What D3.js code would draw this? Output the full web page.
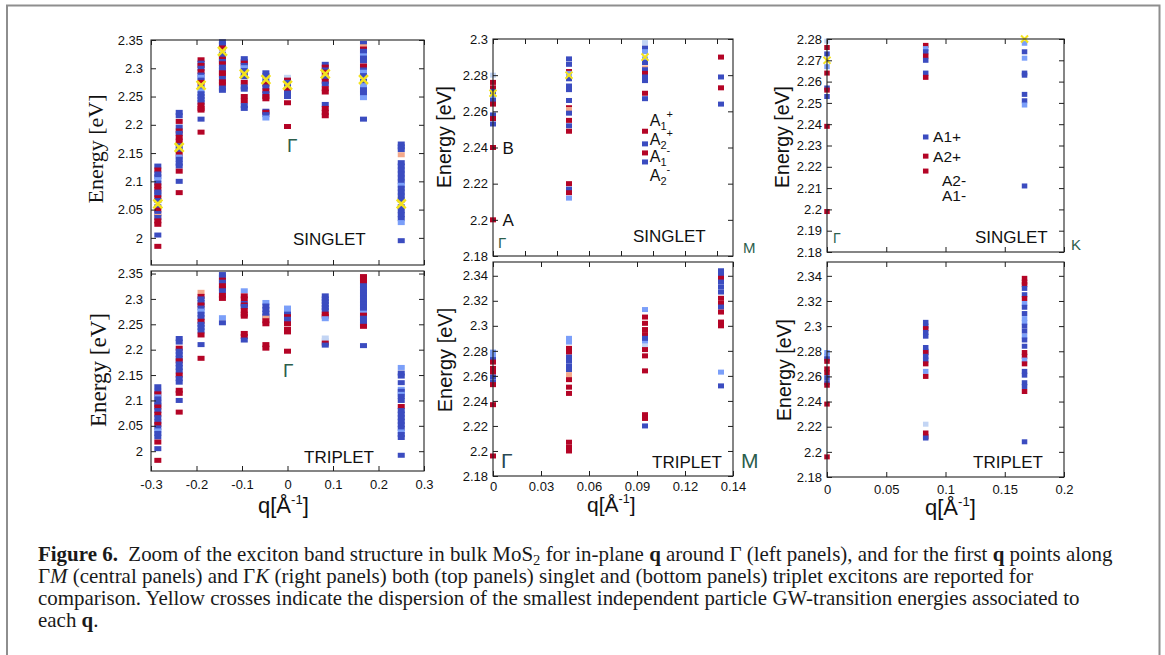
<!DOCTYPE html>
<html>
<head>
<meta charset="utf-8">
<script src="https://cdn.jsdelivr.net/npm/d3@7"></script>
<style>
  body { margin: 0; background: #fff; }
  svg { display: block; }
  .tick text { font-family: "Liberation Sans", Arial, sans-serif; font-size: 13px; }
</style>
</head>
<body>
<div id="chart"></div>
<script>
//// DATA
// q points of each panel [1/Angstrom]
const qAround = [-0.285, -0.238, -0.19, -0.143, -0.095, -0.0475, 0, 0.083, 0.167, 0.25];
const qGM = [0, 0.0475, 0.095, 0.1425];
const qGK = [0, 0.0833, 0.1667];

// exciton levels per q point : [energy eV, colour key]
// b blue, r red, l light blue, p pale blue, s salmon
const singletAround = [
  [[2.127,'b'],[2.12,'r'],[2.113,'b'],[2.108,'b'],[2.103,'l'],[2.097,'b'],[2.092,'r'],[2.086,'r'],[2.081,'b'],[2.077,'b'],[2.071,'r'],[2.066,'b'],[2.055,'b'],[2.049,'r'],[2.043,'b'],[2.038,'s'],[2.036,'b'],[2.03,'r'],[2.024,'r'],[2.005,'b'],[1.985,'r']],
  [[2.222,'b'],[2.216,'b'],[2.206,'r'],[2.196,'b'],[2.189,'r'],[2.185,'b'],[2.178,'r'],[2.171,'r'],[2.163,'b'],[2.155,'b'],[2.148,'r'],[2.143,'l'],[2.139,'b'],[2.132,'b'],[2.127,'b'],[2.118,'r'],[2.1,'b'],[2.08,'r']],
  [[2.315,'r'],[2.309,'b'],[2.305,'r'],[2.3,'b'],[2.294,'r'],[2.288,'b'],[2.284,'l'],[2.279,'b'],[2.275,'r'],[2.266,'b'],[2.26,'l'],[2.255,'b'],[2.25,'b'],[2.245,'b'],[2.24,'b'],[2.235,'r'],[2.229,'r'],[2.226,'r'],[2.21,'b'],[2.187,'r']],
  [[2.347,'b'],[2.342,'b'],[2.336,'r'],[2.325,'b'],[2.32,'b'],[2.316,'r'],[2.312,'b'],[2.308,'r'],[2.302,'b'],[2.297,'b'],[2.292,'r'],[2.288,'r'],[2.282,'b'],[2.276,'r'],[2.272,'r'],[2.265,'b'],[2.261,'b']],
  [[2.317,'b'],[2.312,'b'],[2.309,'r'],[2.305,'b'],[2.301,'l'],[2.296,'b'],[2.29,'b'],[2.285,'b'],[2.275,'r'],[2.267,'b'],[2.263,'b'],[2.25,'r'],[2.242,'r'],[2.234,'b'],[2.229,'b']],
  [[2.292,'b'],[2.287,'b'],[2.278,'b'],[2.272,'r'],[2.267,'b'],[2.26,'r'],[2.255,'b'],[2.25,'r'],[2.246,'r'],[2.224,'b'],[2.222,'r'],[2.218,'b'],[2.212,'l']],
  [[2.284,'p'],[2.279,'r'],[2.275,'b'],[2.266,'b'],[2.262,'r'],[2.256,'b'],[2.25,'b'],[2.239,'r'],[2.197,'r']],
  [[2.307,'b'],[2.302,'r'],[2.297,'b'],[2.293,'r'],[2.284,'b'],[2.277,'r'],[2.272,'b'],[2.264,'r'],[2.258,'r'],[2.236,'b'],[2.229,'r'],[2.222,'r'],[2.216,'r']],
  [[2.344,'b'],[2.338,'s'],[2.334,'r'],[2.33,'b'],[2.326,'b'],[2.322,'l'],[2.318,'b'],[2.313,'b'],[2.304,'r'],[2.297,'b'],[2.293,'l'],[2.287,'b'],[2.277,'b'],[2.269,'l'],[2.262,'b'],[2.255,'b'],[2.248,'l'],[2.21,'b']],
  [[2.166,'b'],[2.161,'b'],[2.156,'b'],[2.147,'s'],[2.133,'b'],[2.127,'b'],[2.12,'b'],[2.113,'b'],[2.106,'b'],[2.099,'b'],[2.093,'l'],[2.088,'b'],[2.081,'b'],[2.074,'b'],[2.067,'b'],[2.055,'b'],[2.048,'b'],[2.041,'b'],[2.034,'b'],[2.027,'l'],[1.995,'b']]
];
const tripletAround = [
  [[2.127,'b'],[2.118,'b'],[2.113,'r'],[2.107,'l'],[2.103,'b'],[2.097,'b'],[2.091,'b'],[2.087,'r'],[2.08,'b'],[2.073,'r'],[2.066,'b'],[2.058,'b'],[2.053,'r'],[2.046,'b'],[2.04,'l'],[2.035,'b'],[2.028,'b'],[2.018,'r'],[2.005,'b'],[1.982,'r']],
  [[2.222,'b'],[2.215,'b'],[2.203,'r'],[2.197,'b'],[2.19,'b'],[2.183,'b'],[2.178,'r'],[2.172,'b'],[2.165,'b'],[2.158,'b'],[2.15,'r'],[2.143,'b'],[2.136,'b'],[2.12,'r'],[2.114,'r'],[2.1,'b'],[2.077,'r']],
  [[2.313,'s'],[2.305,'r'],[2.3,'b'],[2.293,'b'],[2.288,'r'],[2.282,'b'],[2.276,'l'],[2.27,'b'],[2.263,'b'],[2.256,'r'],[2.25,'b'],[2.244,'b'],[2.237,'b'],[2.229,'r'],[2.21,'b'],[2.183,'r']],
  [[2.348,'b'],[2.343,'b'],[2.337,'r'],[2.333,'b'],[2.326,'r'],[2.321,'r'],[2.316,'b'],[2.307,'r'],[2.301,'r'],[2.263,'l'],[2.253,'b']],
  [[2.316,'l'],[2.306,'r'],[2.3,'r'],[2.291,'b'],[2.288,'r'],[2.285,'b'],[2.277,'r'],[2.27,'r'],[2.266,'r'],[2.232,'r'],[2.226,'r'],[2.219,'b']],
  [[2.293,'l'],[2.286,'b'],[2.279,'b'],[2.272,'b'],[2.266,'b'],[2.262,'s'],[2.257,'r'],[2.251,'r'],[2.21,'r'],[2.203,'r']],
  [[2.282,'l'],[2.276,'l'],[2.27,'b'],[2.265,'r'],[2.26,'b'],[2.255,'b'],[2.251,'r'],[2.24,'r'],[2.235,'r'],[2.197,'r']],
  [[2.306,'b'],[2.3,'b'],[2.295,'b'],[2.289,'b'],[2.283,'b'],[2.278,'b'],[2.27,'r'],[2.266,'r'],[2.261,'l'],[2.223,'p'],[2.218,'p'],[2.213,'r'],[2.209,'b']],
  [[2.344,'r'],[2.34,'r'],[2.333,'r'],[2.326,'b'],[2.32,'b'],[2.314,'b'],[2.308,'b'],[2.302,'b'],[2.296,'b'],[2.29,'b'],[2.284,'b'],[2.278,'b'],[2.272,'l'],[2.268,'r'],[2.262,'b'],[2.256,'b'],[2.25,'b'],[2.246,'r'],[2.208,'b']],
  [[2.165,'l'],[2.154,'b'],[2.148,'b'],[2.135,'b'],[2.122,'l'],[2.118,'b'],[2.112,'l'],[2.108,'b'],[2.1,'b'],[2.088,'r'],[2.08,'b'],[2.073,'b'],[2.066,'b'],[2.059,'b'],[2.052,'b'],[2.045,'b'],[2.038,'l'],[2.033,'b'],[2.027,'b'],[1.992,'b']]
];
const singletGM = [
  [[2.28,'p'],[2.276,'r'],[2.273,'r'],[2.271,'b'],[2.268,'l'],[2.266,'b'],[2.264,'r'],[2.258,'b'],[2.256,'r'],[2.253,'b'],[2.24,'r'],[2.2,'r']],
  [[2.289,'b'],[2.286,'b'],[2.282,'r'],[2.281,'l'],[2.278,'b'],[2.274,'b'],[2.272,'b'],[2.266,'b'],[2.262,'r'],[2.261,'s'],[2.259,'b'],[2.255,'r'],[2.252,'b'],[2.249,'r'],[2.22,'r'],[2.217,'b'],[2.215,'r'],[2.212,'l']],
  [[2.298,'p'],[2.295,'b'],[2.293,'l'],[2.289,'l'],[2.287,'b'],[2.284,'s'],[2.283,'b'],[2.281,'r'],[2.279,'b'],[2.277,'b'],[2.27,'r'],[2.267,'b']],
  [[2.29,'r'],[2.279,'b'],[2.273,'r'],[2.264,'b']]
];
const tripletGM = [
  [[2.279,'l'],[2.276,'l'],[2.273,'b'],[2.271,'r'],[2.266,'r'],[2.263,'r'],[2.259,'b'],[2.255,'b'],[2.253,'r'],[2.237,'r'],[2.196,'r']],
  [[2.29,'l'],[2.287,'l'],[2.282,'r'],[2.279,'r'],[2.275,'b'],[2.272,'b'],[2.268,'b'],[2.265,'b'],[2.261,'s'],[2.257,'r'],[2.251,'r'],[2.246,'r'],[2.207,'r'],[2.203,'r'],[2.2,'r']],
  [[2.313,'l'],[2.307,'r'],[2.302,'r'],[2.297,'r'],[2.293,'r'],[2.29,'b'],[2.288,'b'],[2.286,'l'],[2.284,'p'],[2.281,'r'],[2.276,'r'],[2.264,'r'],[2.229,'r'],[2.226,'r'],[2.22,'b']],
  [[2.344,'b'],[2.341,'b'],[2.338,'r'],[2.335,'b'],[2.331,'b'],[2.327,'b'],[2.322,'r'],[2.318,'r'],[2.315,'b'],[2.311,'r'],[2.303,'r'],[2.3,'r'],[2.263,'l'],[2.252,'b']]
];
const singletGK = [
  [[2.279,'p'],[2.276,'r'],[2.273,'b'],[2.267,'l'],[2.264,'r'],[2.257,'b'],[2.256,'r'],[2.253,'b'],[2.239,'r'],[2.199,'r']],
  [[2.277,'r'],[2.2755,'l'],[2.274,'b'],[2.272,'r'],[2.27,'b'],[2.264,'b'],[2.262,'r']],
  [[2.278,'l'],[2.274,'b'],[2.271,'l'],[2.264,'b'],[2.263,'b'],[2.254,'b'],[2.251,'b'],[2.249,'l'],[2.211,'b']]
];
const tripletGK = [
  [[2.279,'l'],[2.276,'l'],[2.274,'b'],[2.272,'r'],[2.266,'r'],[2.263,'r'],[2.259,'b'],[2.255,'b'],[2.253,'r'],[2.238,'r'],[2.196,'r']],
  [[2.303,'b'],[2.3,'b'],[2.298,'r'],[2.295,'b'],[2.292,'b'],[2.283,'b'],[2.28,'b'],[2.279,'r'],[2.276,'b'],[2.273,'b'],[2.27,'r'],[2.264,'l'],[2.26,'r'],[2.222,'p'],[2.215,'r'],[2.212,'r'],[2.211,'b']],
  [[2.338,'r'],[2.335,'r'],[2.333,'r'],[2.33,'b'],[2.325,'b'],[2.322,'r'],[2.318,'l'],[2.315,'b'],[2.31,'b'],[2.306,'l'],[2.303,'l'],[2.3,'b'],[2.296,'b'],[2.292,'l'],[2.289,'b'],[2.284,'b'],[2.279,'r'],[2.276,'r'],[2.273,'l'],[2.27,'r'],[2.264,'b'],[2.261,'b'],[2.255,'b'],[2.252,'b'],[2.248,'r'],[2.208,'b']]
];

// smallest GW transition energies (yellow crosses), null = none shown
const gwAround = [2.06, 2.16, 2.27, 2.33, 2.29, 2.28, 2.27, 2.29, 2.28, 2.06];
const gwGM = [2.27, 2.28, 2.29, null];
const gwGK = [2.27, null, 2.28];

// legends drawn inside the singlet panels
const legendGMMarks = [[2.249,'r'],[2.242,'b'],[2.237,'r'],[2.232,'b']];
const legendGMText = [[2.2548,'1','+'],[2.2442,'2','+'],[2.2345,'1','-'],[2.224,'2','-']];
const legendGKMarks = [[2.234,'b'],[2.225,'r'],[2.218,'r']];
const legendGKText = [[2.2342,0.0895,'A1+'],[2.2247,0.0895,'A2+'],[2.2135,0.097,'A2-'],[2.2065,0.097,'A1-']];

// ticks
const xTicksAround = [-0.3,-0.2,-0.1,0,0.1,0.2,0.3];
const xLabelsAround = ['-0.3','-0.2','-0.1','0','0.1','0.2','0.3'];
const yTicksAround = [2,2.05,2.1,2.15,2.2,2.25,2.3,2.35];
const yLabelsAround = ['2','2.05','2.1','2.15','2.2','2.25','2.3','2.35'];
const xTicksGMTop = [0,0.02,0.04,0.06,0.08,0.1,0.12,0.14];
const xTicksGMBottom = [0,0.03,0.06,0.09,0.12,0.15];
const xLabelsGMBottom = ['0','0.03','0.06','0.09','0.12','0.14'];
const yTicksGMTop = [2.18,2.2,2.22,2.24,2.26,2.28,2.3];
const yLabelsGMTop = ['2.18','2.2','2.22','2.24','2.26','2.28','2.3'];
const yTicksGKTop = [2.18,2.19,2.2,2.21,2.22,2.23,2.24,2.25,2.26,2.27,2.28];
const yLabelsGKTop = ['2.18','2.19','2.2','2.21','2.22','2.23','2.24','2.25','2.26','2.27','2.28'];
const yTicksBottom = [2.18,2.2,2.22,2.24,2.26,2.28,2.3,2.32,2.34];
const yLabelsBottom = ['2.18','2.2','2.22','2.24','2.26','2.28','2.3','2.32','2.34'];
const xTicksGK = [0,0.05,0.1,0.15,0.2];
const xLabelsGK = ['0','0.05','0.1','0.15','0.2'];

//// SETUP
const colors = { b: '#3b4cc0', r: '#b40426', l: '#7b9ff9', p: '#c3d5f4', s: '#f4a98b' };
const sans = '"Liberation Sans", Arial, sans-serif';
const serif = '"Liberation Serif", "Times New Roman", serif';
const green = '#2c5e4c';

const svg = d3.select('#chart').append('svg').attr('width', 1165).attr('height', 655);

// page frame
svg.append('path').attr('d', 'M7,660V5.5H1159.5V660')
   .attr('fill', 'none').attr('stroke', '#8e8e8e').attr('stroke-width', 2);

// PANELS
const panels = [
  { x0: 151, x1: 424, y0: 40, y1: 265, xDomain: [-0.3, 0.3], yDomain: [1.952, 2.35],
    xTicks: xTicksAround, xLabels: null, yTicks: yTicksAround, yLabels: yLabelsAround, yPad: 8,
    q: qAround, levels: singletAround, gw: gwAround, mw: 7, cross: 3.5,
    name: 'SINGLET', namePos: [293, 245],
    ylab: { text: 'Energy [eV]', font: serif, size: 22, x: 103, y: 149 },
    greek: [['Γ', 287, 152, 19, green]] },
  { x0: 151, x1: 424, y0: 271, y1: 471, xDomain: [-0.3, 0.3], yDomain: [1.961, 2.355],
    xTicks: xTicksAround, xLabels: xLabelsAround, xPad: 9, yTicks: yTicksAround, yLabels: yLabelsAround, yPad: 8,
    q: qAround, levels: tripletAround, gw: null, mw: 7,
    name: 'TRIPLET', namePos: [304, 463],
    ylab: { text: 'Energy [eV]', font: serif, size: 23, x: 106, y: 370 },
    xlab: [258, 513, 22],
    greek: [['Γ', 283, 377, 19, green]] },
  { x0: 493, x1: 733, y0: 39, y1: 256, xDomain: [0, 0.15], yDomain: [2.18, 2.3],
    xTicks: xTicksGMTop, xLabels: null, yTicks: yTicksGMTop, yLabels: yLabelsGMTop, yPad: 5,
    q: qGM, levels: singletGM, gw: gwGM, mw: 6, cross: 2.8,
    name: 'SINGLET', namePos: [633, 242],
    ylab: { text: 'Energy [eV]', font: sans, size: 19.5, x: 451, y: 137 },
    greek: [['Γ', 498, 248, 15, green], ['M', 743, 253, 15, green]],
    notes: [['B', 0.006, 2.24], ['A', 0.006, 2.2]] },
  { x0: 493, x1: 733, y0: 262, y1: 476, xDomain: [0, 0.15], yDomain: [2.18, 2.351],
    xTicks: xTicksGMBottom, xLabels: xLabelsGMBottom, xPad: 6, yTicks: yTicksBottom, yLabels: yLabelsBottom, yPad: 5,
    q: qGM, levels: tripletGM, gw: null, mw: 6,
    name: 'TRIPLET', namePos: [652, 468],
    ylab: { text: 'Energy [eV]', font: sans, size: 20, x: 452, y: 360 },
    xlab: [587, 512, 21],
    greek: [['Γ', 501, 468, 21, '#2b4854'], ['M', 741, 468, 21, green]] },
  { x0: 827, x1: 1064, y0: 39, y1: 252, xDomain: [0, 0.2], yDomain: [2.18, 2.28],
    xTicks: xTicksGK, xLabels: null, yTicks: yTicksGKTop, yLabels: yLabelsGKTop, yPad: 5,
    q: qGK, levels: singletGK, gw: gwGK, mw: 5.5, cross: 2.8,
    name: 'SINGLET', namePos: [975, 243],
    ylab: { text: 'Energy [eV]', font: sans, size: 19.5, x: 789, y: 137 },
    greek: [['Γ', 833, 243, 14, green], ['K', 1071, 250, 15, green]] },
  { x0: 827, x1: 1064, y0: 262, y1: 477, xDomain: [0, 0.2], yDomain: [2.18, 2.351],
    xTicks: xTicksGK, xLabels: xLabelsGK, xPad: 8, yTicks: yTicksBottom, yLabels: yLabelsBottom, yPad: 5,
    q: qGK, levels: tripletGK, gw: null, mw: 5.5,
    name: 'TRIPLET', namePos: [973, 468],
    ylab: { text: 'Energy [eV]', font: sans, size: 19.5, x: 791, y: 370 },
    xlab: [925, 515, 22],
    greek: [] }
];

// FUNCTIONS
// axisGroup
// appends an axis at a position and drops its domain line
function axisGroup(g, axis, tx, ty) {
  g.append('g').attr('transform', 'translate(' + tx + ',' + ty + ')')
   .attr('color', '#1e1e1e')
   .call(axis)
   .call(s => s.select('.domain').remove());
}

// drawPanel
// draws frame, ticks, levels, crosses and labels of one panel
function drawPanel(p) {
  const x = d3.scaleLinear().domain(p.xDomain).range([p.x0, p.x1]);
  const y = d3.scaleLinear().domain(p.yDomain).range([p.y1, p.y0]);
  const g = svg.append('g');
  p.x = x; p.y = y;

  // exciton levels
  p.levels.forEach(function(col, i) {
    g.selectAll(null).data(col).enter().append('rect')
     .attr('x', x(p.q[i]) - p.mw / 2)
     .attr('y', d => y(d[0]) - 2.5)
     .attr('width', p.mw)
     .attr('height', 5)
     .attr('fill', d => colors[d[1]]);
  });

  // yellow crosses
  if (p.gw) {
    const gwPts = p.q.map((q, i) => [q, p.gw[i]]).filter(d => d[1] !== null);
    const c = p.cross;
    g.selectAll(null).data(gwPts).enter().append('path')
     .attr('transform', d => 'translate(' + x(d[0]) + ',' + y(d[1]) + ')')
     .attr('d', 'M' + (-c) + ',' + (-c) + 'L' + c + ',' + c + 'M' + (-c) + ',' + c + 'L' + c + ',' + (-c))
     .attr('stroke', '#f3e21e').attr('stroke-width', c > 3 ? 2.6 : 2).attr('stroke-linecap', 'square');
  }

  // axes, ticks inward on all sides
  axisGroup(g, d3.axisLeft(y).tickValues(p.yTicks).tickSize(-5).tickPadding(p.yPad)
                .tickFormat((d, i) => p.yLabels[i]), p.x0, 0);
  axisGroup(g, d3.axisRight(y).tickValues(p.yTicks).tickSize(-5).tickFormat(''), p.x1, 0);
  axisGroup(g, d3.axisBottom(x).tickValues(p.xTicks).tickSize(-5).tickPadding(p.xPad || 6)
                .tickFormat((d, i) => p.xLabels ? p.xLabels[i] : ''), 0, p.y1);
  axisGroup(g, d3.axisTop(x).tickValues(p.xTicks).tickSize(-5).tickFormat(''), 0, p.y0);
  g.selectAll('.tick text').attr('fill', '#111');

  g.append('rect')
   .attr('x', p.x0).attr('y', p.y0)
   .attr('width', p.x1 - p.x0).attr('height', p.y1 - p.y0)
   .attr('fill', 'none').attr('stroke', '#222').attr('stroke-width', 1.1);

  // panel name
  g.append('text').attr('x', p.namePos[0]).attr('y', p.namePos[1])
   .attr('font-family', sans).attr('font-size', 17).attr('fill', '#111')
   .text(p.name);

  // energy label
  g.append('text')
   .attr('transform', 'translate(' + p.ylab.x + ',' + p.ylab.y + ') rotate(-90)')
   .attr('text-anchor', 'middle')
   .attr('font-family', p.ylab.font).attr('font-size', p.ylab.size).attr('fill', '#111')
   .text(p.ylab.text);

  // q label
  if (p.xlab) {
    const t = g.append('text').attr('x', p.xlab[0]).attr('y', p.xlab[1])
               .attr('font-family', sans).attr('font-size', p.xlab[2]).attr('fill', '#111');
    t.append('tspan').text('q[Å');
    t.append('tspan').attr('font-size', p.xlab[2] * 0.6).attr('dy', -9).text('-1');
    t.append('tspan').attr('dy', 9).text(']');
  }

  // high symmetry points
  p.greek.forEach(function(d) {
    g.append('text').attr('x', d[1]).attr('y', d[2])
     .attr('font-family', sans).attr('font-size', d[3]).attr('fill', d[4])
     .text(d[0]);
  });

  // A / B notes
  (p.notes || []).forEach(function(d) {
    g.append('text').attr('x', x(d[1])).attr('y', y(d[2]) + 6)
     .attr('font-family', sans).attr('font-size', 17).attr('fill', '#111')
     .text(d[0]);
  });
}

panels.forEach(drawPanel);

// LEGENDS
// central singlet panel
const pGM = panels[2];
svg.append('g').selectAll(null).data(legendGMMarks).enter().append('rect')
   .attr('x', pGM.x(qGM[2]) - pGM.mw / 2).attr('y', d => pGM.y(d[0]) - 2.5)
   .attr('width', pGM.mw).attr('height', 5).attr('fill', d => colors[d[1]]);
legendGMText.forEach(function(d) {
  const t = svg.append('text').attr('x', pGM.x(0.098)).attr('y', pGM.y(d[0]) + 5)
               .attr('font-family', sans).attr('font-size', 16).attr('fill', '#111');
  t.append('tspan').text('A');
  t.append('tspan').attr('font-size', 11).attr('dy', 4).text(d[1]);
  t.append('tspan').attr('font-size', 11).attr('dy', -12).text(d[2]);
});

// right singlet panel
const pGK = panels[4];
svg.append('g').selectAll(null).data(legendGKMarks).enter().append('rect')
   .attr('x', pGK.x(qGK[1]) - pGK.mw / 2).attr('y', d => pGK.y(d[0]) - 2.5)
   .attr('width', pGK.mw).attr('height', 5).attr('fill', d => colors[d[1]]);
legendGKText.forEach(function(d) {
  svg.append('text').attr('x', pGK.x(d[1])).attr('y', pGK.y(d[0]) + 5)
     .attr('font-family', sans).attr('font-size', 15.5).attr('fill', '#111')
     .text(d[2]);
});

// CAPTION
// parts : [text, style] style b bold, i italic, sub subscript
const captionLines = [
  [['Figure 6.', 'b'], ['  Zoom of the exciton band structure in bulk MoS'], ['2', 'sub'], [' for in-plane '], ['q', 'b'],
   [' around Γ (left panels), and for the first '], ['q', 'b'], [' points along']],
  [['Γ'], ['M', 'i'], [' (central panels) and Γ'], ['K', 'i'],
   [' (right panels) both (top panels) singlet and (bottom panels) triplet excitons are reported for']],
  [['comparison. Yellow crosses indicate the dispersion of the smallest independent particle GW-transition energies associated to']],
  [['each '], ['q', 'b'], ['.']]
];

function writeLine(parts, yPos, size) {
  const t = svg.append('text').attr('x', 38).attr('y', yPos)
               .attr('font-family', serif).attr('font-size', size).attr('fill', '#1a1a1a')
               .style('white-space', 'pre');
  let shifted = false;
  parts.forEach(function(p) {
    const s = t.append('tspan').text(p[0]);
    if (p[1] === 'b') s.attr('font-weight', 'bold');
    if (p[1] === 'i') s.attr('font-style', 'italic');
    if (p[1] === 'sub') { s.attr('font-size', size * 0.7).attr('dy', size * 0.18); shifted = true; }
    else if (shifted) { s.attr('dy', -size * 0.18); shifted = false; }
  });
  return t;
}

// fit first line to its width in the figure
const probe = writeLine(captionLines[0], -50, 18);
const capSize = 18 * 1075 / probe.node().getComputedTextLength();
probe.remove();
captionLines.forEach((line, i) => writeLine(line, 561 + i * 22, capSize));
</script>
</body>
</html>
